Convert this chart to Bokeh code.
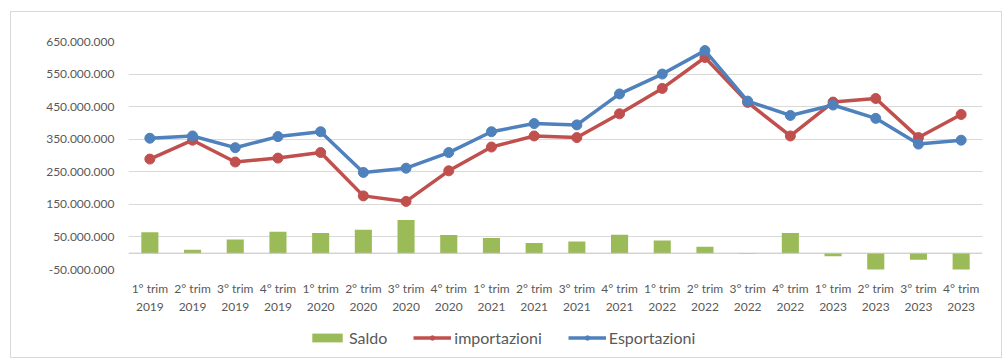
from bokeh.plotting import figure
from bokeh.layouts import column
from bokeh.models import (FactorRange, Range1d, FixedTicker, Span, Legend, LegendItem,
                          ColumnDataSource)
from bokeh.embed import file_html
from bokeh.resources import INLINE

quarters = ["1° trim", "2° trim", "3° trim", "4° trim"]
years = ["2019", "2020", "2021", "2022", "2023"]
categories = [f"{q}\n{y}" for y in years for q in quarters]

# values in millions of euro
esportazioni = [353, 360, 324, 358, 373, 248, 261, 309, 373, 398,
                394, 489, 550, 622, 467, 423, 455, 414, 335, 347]
importazioni = [289, 347, 280, 292, 309, 176, 159, 253, 326, 360,
                355, 428, 506, 601, 463, 360, 464, 475, 355, 426]
saldo = [64, 11, 42, 66, 62, 72, 102, 56, 47, 31,
         36, 57, 39, 20, -2, 62, -9, -58, -20, -58]

tick_values = [-50, 50, 150, 250, 350, 450, 550, 650]
tick_labels = ["-50.000.000", "50.000.000", "150.000.000", "250.000.000",
               "350.000.000", "450.000.000", "550.000.000", "650.000.000"]

M = 1_000_000
src = ColumnDataSource(dict(
    cat=categories,
    exp=[v * M for v in esportazioni],
    imp=[v * M for v in importazioni],
    sal=[v * M for v in saldo],
))

FONT = "Lato"
TXT = "#595959"
BLUE = "#4F81BD"
RED = "#C0504D"
GREEN = "#9BBB59"

p = figure(x_range=FactorRange(*categories), y_range=Range1d(-50 * M, 650 * M),
           width=990, height=310, output_backend="svg", toolbar_location=None,
           min_border_left=117, min_border_right=19, min_border_top=29, min_border_bottom=53)
p.outline_line_color = None
p.background_fill_color = "white"
p.border_fill_color = "white"

ticks = [t * M for t in tick_values]
p.yaxis.ticker = FixedTicker(ticks=ticks)
p.ygrid.ticker = FixedTicker(ticks=ticks)
p.yaxis.major_label_overrides = {t * M: lab for t, lab in zip(tick_values, tick_labels)}
p.ygrid.grid_line_color = "#d9d9d9"
p.xgrid.grid_line_color = None

for ax in (p.xaxis[0], p.yaxis[0]):
    ax.axis_line_color = None
    ax.major_tick_line_color = None
    ax.minor_tick_line_color = None
    ax.major_tick_out = 0
    ax.major_tick_in = 0
    ax.major_label_text_font = FONT
    ax.major_label_text_color = TXT
    ax.major_label_text_font_size = "12px"
p.yaxis.major_label_standoff = 14
p.xaxis.major_label_standoff = 11

p.add_layout(Span(location=0, dimension="width", line_color="#bfbfbf", line_width=1))

p.vbar(x="cat", top="sal", bottom=0, width=0.4, source=src,
       fill_color=GREEN, line_color=None)
p.line(x="cat", y="imp", source=src, line_color=RED, line_width=3.5)
p.scatter(x="cat", y="imp", source=src, size=10, marker="circle",
          fill_color=RED, line_color=RED)
p.line(x="cat", y="exp", source=src, line_color=BLUE, line_width=3.5)
p.scatter(x="cat", y="exp", source=src, size=10, marker="circle",
          fill_color=BLUE, line_color=BLUE)

# legend strip (renderers hold no drawable point, only used for the legend keys)
lg = figure(width=990, height=35, output_backend="svg", toolbar_location=None,
            x_range=Range1d(0, 1), y_range=Range1d(0, 1),
            min_border_left=0, min_border_right=0, min_border_top=0, min_border_bottom=0,
            x_axis_location=None, y_axis_location=None)
lg.outline_line_color = None
lg.xgrid.visible = False
lg.ygrid.visible = False
nan = float("nan")
empty = ColumnDataSource(dict(x=[nan], y=[nan]))
k_bar = lg.vbar(x="x", top="y", width=0.4, source=empty, fill_color=GREEN, line_color=None)
k_rl = lg.line(x="x", y="y", source=empty, line_color=RED, line_width=3.5)
k_rs = lg.scatter(x="x", y="y", source=empty, size=10, marker="circle",
                  fill_color=RED, line_color=RED)
k_bl = lg.line(x="x", y="y", source=empty, line_color=BLUE, line_width=3.5)
k_bs = lg.scatter(x="x", y="y", source=empty, size=10, marker="circle",
                  fill_color=BLUE, line_color=BLUE)

legend = Legend(items=[
    LegendItem(label="Saldo", renderers=[k_bar]),
    LegendItem(label="importazioni", renderers=[k_rl, k_rs]),
    LegendItem(label="Esportazioni", renderers=[k_bl, k_bs]),
], orientation="horizontal", location=(180, 10),
    border_line_color=None, background_fill_alpha=0,
    label_text_font=FONT, label_text_font_size="16px", label_text_color=TXT,
    glyph_width=38, glyph_height=11, spacing=26, label_standoff=3, padding=6, margin=0)
lg.add_layout(legend)

layout = column(p, lg, spacing=0, margin=(11, 0, 0, 10))
layout.styles = {"border": "1px solid #d9d9d9"}

open("out.html", "w").write(file_html(layout, INLINE))
